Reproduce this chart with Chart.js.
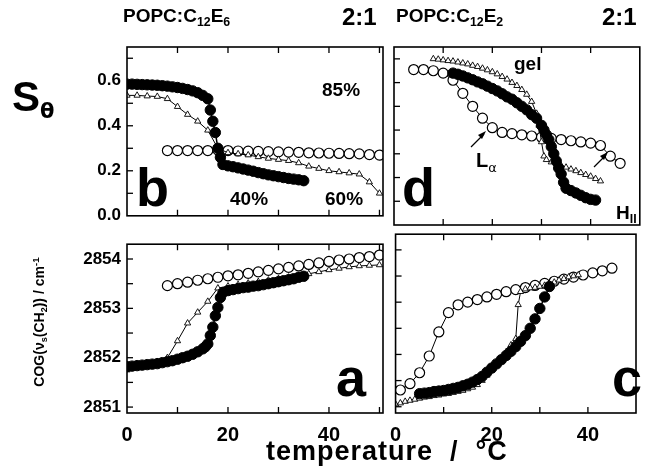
<!DOCTYPE html>
<html><head><meta charset="utf-8">
<script src="https://cdn.jsdelivr.net/npm/chart.js@4.4.0/dist/chart.umd.min.js"></script>
<style>
body{margin:0;background:#fff;width:646px;height:472px;overflow:hidden;position:relative;font-family:"Liberation Sans",Arial,sans-serif;font-weight:bold;color:#000}
canvas{position:absolute}
.t{position:absolute;white-space:nowrap;line-height:1}
sub{font-size:65%;vertical-align:-0.35em}
</style></head><body>
<canvas id="pb" style="left:0;top:0" width="390" height="232"></canvas>
<canvas id="pd" style="left:380px;top:0" width="266" height="232"></canvas>
<canvas id="pa" style="left:0;top:228px" width="390" height="244"></canvas>
<canvas id="pc" style="left:380px;top:228px" width="266" height="244"></canvas>

<div class="t" style="left:123px;top:6px;font-size:19px">POPC:C<sub>12</sub>E<sub>6</sub></div>
<div class="t" style="left:342px;top:5px;font-size:24px">2:1</div>
<div class="t" style="left:396px;top:6px;font-size:19px">POPC:C<sub>12</sub>E<sub>2</sub></div>
<div class="t" style="left:602px;top:5px;font-size:24px">2:1</div>
<div class="t" style="left:12px;top:76px;font-size:42px">S<sub style="font-size:50%;font-family:'DejaVu Sans'">θ</sub></div>
<div class="t" style="left:40px;top:322px;font-size:14px;transform:translate(-50%,-50%) rotate(-90deg)">COG(ν<sub>s</sub>(CH<sub>2</sub>)) / cm<sup style="font-size:70%">-1</sup></div>
<div class="t" style="left:266px;top:438px;font-size:27px;letter-spacing:1px">temperature&nbsp; /&nbsp; °C</div>
<div class="t" style="left:136px;top:160px;font-size:54px">b</div>
<div class="t" style="left:336px;top:350px;font-size:54px">a</div>
<div class="t" style="left:402px;top:160px;font-size:54px">d</div>
<div class="t" style="left:612px;top:350px;font-size:54px">c</div>
<div class="t" style="left:322px;top:80px;font-size:19px">85%</div>
<div class="t" style="left:230px;top:189px;font-size:19px">40%</div>
<div class="t" style="left:325px;top:189px;font-size:19px">60%</div>
<div class="t" style="left:514px;top:54px;font-size:19px">gel</div>
<div class="t" style="left:476px;top:150px;font-size:20px">L<sub style="font-family:'DejaVu Sans';font-weight:normal">α</sub></div>
<div class="t" style="left:616px;top:203px;font-size:19px">H<sub>II</sub></div>
<svg style="position:absolute;left:0;top:0" width="646" height="472">
<line x1="471" y1="147" x2="484" y2="134" stroke="#000" stroke-width="1.3"/><polygon points="486,131 478,135 482,139" fill="#000"/>
<line x1="594" y1="167" x2="606" y2="155" stroke="#000" stroke-width="1.3"/><polygon points="608,152 600,156 604,160" fill="#000"/>
</svg>

<script>
// Panel b: POPC:C12E6, order parameter
const bFilledX = [0,1,2,3,4,5,6,7,8,9,10,11,12,13,14,15,16,16.5,17,17.5,18,18.5,19,20,21,22,23,24,25,26,27,28,29,30,31,32,33,34,35];
const bFilledY = [.585,.585,.584,.583,.582,.581,.580,.578,.576,.573,.570,.566,.561,.555,.547,.535,.52,.47,.42,.37,.30,.26,.228,.222,.218,.213,.208,.203,.198,.192,.187,.182,.178,.174,.170,.166,.163,.160,.156];
const bTriX = [0,2,4,6,8,10,12,14,16,18,20,22,24,26,28,30,32,34,36,38,40,42,44,46,48,50];
const bTriY = [.535,.535,.532,.530,.52,.485,.45,.42,.38,.30,.28,.275,.27,.262,.255,.25,.245,.235,.22,.21,.20,.195,.19,.185,.15,.10];
const bOpenX = [8,10,12,14,16,18,20,22,24,26,28,30,32,34,36,38,40,42,44,46,48,50];
const bOpenY = [.29,.29,.29,.29,.29,.292,.29,.288,.287,.286,.285,.284,.283,.282,.280,.279,.278,.277,.276,.275,.272,.27];

// Panel d: POPC:C12E2, order parameter
const dOpenX = [4,6,8,10,12,14,16,18,20,22,24,26,28,30,32,34,36,38,40,42,44,46];
const dOpenY = [.655,.655,.65,.64,.61,.555,.50,.45,.41,.39,.385,.38,.375,.37,.365,.36,.355,.35,.345,.335,.29,.26];
const dTriX = [8,9,10,11,12,13,14,15,16,17,18,19,20,21,22,23,24,25,26,27,28,29,29.5,30,30.5,31,32,33,34,35,36,37,38,39,40,41,42];
const dTriY = [.70,.698,.695,.692,.69,.686,.682,.678,.672,.667,.66,.653,.645,.636,.625,.614,.60,.587,.57,.55,.52,.47,.42,.35,.29,.275,.265,.258,.25,.243,.235,.228,.22,.212,.205,.195,.185];
const dFilledX = [12,13,14,15,16,17,18,19,20,21,22,23,24,25,26,27,28,29,30,30.5,31,31.5,32,32.5,33,33.5,34,34.5,35,36,37,38,39,40,41];
const dFilledY = [.64,.635,.628,.62,.612,.603,.595,.585,.575,.565,.553,.54,.53,.515,.50,.485,.465,.45,.42,.40,.38,.36,.33,.30,.27,.24,.215,.18,.155,.145,.135,.125,.115,.108,.105];

// Panel a: POPC:C12E6, COG of CH2 stretching band
const aOpenX = [8,10,12,14,16,18,20,22,24,26,28,30,32,34,36,38,40,42,44,46,48,50];
const aOpenY = [2853.46,2853.5,2853.53,2853.57,2853.6,2853.63,2853.66,2853.68,2853.71,2853.74,2853.77,2853.8,2853.83,2853.86,2853.89,2853.92,2853.95,2853.98,2854.0,2854.03,2854.05,2854.08];
const aTriX = [0,2,4,6,8,10,12,14,16,18,20,22,24,26,28,30,32,34,36,38,40,42,44,46,48,50];
const aTriY = [2851.75,2851.82,2851.87,2851.92,2852.0,2852.34,2852.7,2852.92,2853.14,2853.41,2853.45,2853.48,2853.51,2853.54,2853.57,2853.6,2853.63,2853.66,2853.7,2853.74,2853.78,2853.81,2853.84,2853.86,2853.87,2853.88];
const aFilledX = [0,1,2,3,4,5,6,7,8,9,10,11,12,13,14,15,15.5,16,16.5,17,17.5,18,18.5,19,20,21,22,23,24,25,26,27,28,29,30,31,32,33,34,35];
const aFilledY = [2851.82,2851.83,2851.84,2851.85,2851.86,2851.87,2851.88,2851.9,2851.92,2851.94,2851.97,2852.0,2852.03,2852.07,2852.12,2852.18,2852.22,2852.28,2852.45,2852.62,2852.85,2853.02,2853.22,2853.32,2853.36,2853.38,2853.4,2853.42,2853.43,2853.45,2853.46,2853.48,2853.5,2853.52,2853.54,2853.56,2853.58,2853.6,2853.63,2853.65];

// Panel c: POPC:C12E2, COG of CH2 stretching band
const cOpenX = [1,3,5,7,9,11,13,15,17,19,21,23,25,27,29,31,33,35,37,39,41,43,45];
const cOpenY = [2851.32,2851.44,2851.65,2851.97,2852.43,2852.8,2852.95,2853.0,2853.05,2853.1,2853.15,2853.2,2853.24,2853.28,2853.32,2853.36,2853.4,2853.44,2853.48,2853.52,2853.56,2853.6,2853.65];
const cTriX = [0,1,2,3,4,5,6,7,8,9,10,11,12,13,14,15,16,17,18,19,20,21,22,23,24,25,25.5,26,27,28,29,30,31,32,33,34,35,36,37,38];
const cTriY = [2851.05,2851.07,2851.1,2851.12,2851.14,2851.16,2851.18,2851.19,2851.21,2851.22,2851.24,2851.25,2851.27,2851.29,2851.31,2851.34,2851.37,2851.42,2851.5,2851.6,2851.7,2851.8,2851.92,2852.05,2852.18,2852.3,2852.95,2853.2,2853.25,2853.27,2853.28,2853.3,2853.32,2853.35,2853.38,2853.42,2853.45,2853.48,2853.5,2853.52];
const cFilledX = [5,6,7,8,9,10,11,12,13,14,15,16,17,18,19,20,21,22,23,24,25,26,27,28,29,30,31,32];
const cFilledY = [2851.25,2851.26,2851.27,2851.29,2851.3,2851.31,2851.33,2851.35,2851.37,2851.4,2851.43,2851.47,2851.52,2851.58,2851.66,2851.74,2851.82,2851.9,2851.98,2852.06,2852.15,2852.25,2852.36,2852.5,2852.68,2852.88,2853.1,2853.3];

// Tick positions
const tempTicks = [0,10,20,30,40,50];
const sTicks = [0,0.1,0.2,0.3,0.4,0.5,0.6,0.7];
const cogTicks = [2851,2851.5,2852,2852.5,2853,2853.5,2854];

const pts = (xs, ys) => xs.map((x, i) => ({ x, y: ys[i] }));

function filled(xs, ys) {
  return { data: pts(xs, ys), pointStyle: 'circle', pointRadius: 5.2, backgroundColor: '#000',
    borderColor: '#000', borderWidth: 1.5, pointBorderWidth: 1, showLine: true };
}
function open(xs, ys) {
  return { data: pts(xs, ys), pointStyle: 'circle', pointRadius: 5, backgroundColor: '#fff',
    borderColor: '#000', borderWidth: 1, pointBorderWidth: 1.2, showLine: true };
}
function tri(xs, ys) {
  return { data: pts(xs, ys), pointStyle: 'triangle', pointRadius: 3.6, backgroundColor: '#fff',
    borderColor: '#000', borderWidth: 1, pointBorderWidth: 0.9, showLine: true };
}

// Caixa à volta da área e traços de escala virados para dentro.
const caixa = {
  id: 'caixa',
  afterDraw(chart) {
    const { ctx, chartArea: a, scales } = chart;
    ctx.save();
    ctx.strokeStyle = '#000';
    ctx.lineWidth = 1.6;
    ctx.strokeRect(a.left, a.top, a.right - a.left, a.bottom - a.top);
    ctx.lineWidth = 1.3;
    scales.x.ticks.forEach(t => {
      const p = scales.x.getPixelForValue(t.value);
      if (p <= a.left + 1 || p >= a.right - 1) return;
      ctx.beginPath();
      ctx.moveTo(p, a.bottom); ctx.lineTo(p, a.bottom - 6);
      ctx.moveTo(p, a.top); ctx.lineTo(p, a.top + 6);
      ctx.stroke();
    });
    scales.y.ticks.forEach(t => {
      const p = scales.y.getPixelForValue(t.value);
      if (p <= a.top + 1 || p >= a.bottom - 1) return;
      ctx.beginPath();
      ctx.moveTo(a.left, p); ctx.lineTo(a.left + 6, p);
      ctx.stroke();
    });
    ctx.restore();
  }
};

function painel(id, datasets, o) {
  new Chart(document.getElementById(id), {
    type: 'scatter',
    data: { datasets },
    options: {
      responsive: false, animation: false,
      layout: { padding: { top: o.top, right: o.right, left: 0, bottom: 0 } },
      plugins: { legend: { display: false }, tooltip: { enabled: false } },
      scales: {
        x: {
          type: 'linear', min: 0, max: o.xmax,
          grid: { display: false, drawTicks: false },
          border: { display: false },
          afterBuildTicks: s => { s.ticks = tempTicks.map(v => ({ value: v })); },
          ticks: { display: o.xLabels, padding: 10, color: '#000',
            font: { family: 'Liberation Sans', weight: 'bold', size: 20 },
            callback: v => (v % 20 === 0 ? v : '') },
          afterFit: s => { s.height = o.xh; }
        },
        y: {
          min: o.ymin, max: o.ymax,
          grid: { display: false, drawTicks: false },
          border: { display: false },
          afterBuildTicks: s => { s.ticks = o.yticks.map(v => ({ value: v })); },
          ticks: { display: o.yLabels, padding: 6, color: '#000',
            font: { family: 'Liberation Sans', weight: 'bold', size: 17 },
            callback: o.yfmt },
          afterFit: s => { s.width = o.yw; }
        }
      }
    },
    plugins: [caixa]
  });
}

const fmtS = v => ([0, 0.2, 0.4, 0.6].some(k => Math.abs(k - v) < 1e-6) ? v.toFixed(1) : '');
const fmtC = v => (Number.isInteger(v) ? v : '');

painel('pb', [filled(bFilledX, bFilledY), tri(bTriX, bTriY), open(bOpenX, bOpenY)],
  { top: 47, right: 7, xh: 7, yw: 127, xmax: 50.7, ymin: 0, ymax: 0.75, yticks: sTicks, yfmt: fmtS, xLabels: false, yLabels: true });
painel('pd', [filled(dFilledX, dFilledY), tri(dTriX, dTriY), open(dOpenX, dOpenY)],
  { top: 47, right: 0, xh: 7, yw: 14, xmax: 50, ymin: 0, ymax: 0.75, yticks: sTicks, yfmt: fmtS, xLabels: false, yLabels: false });
painel('pa', [filled(aFilledX, aFilledY), tri(aTriX, aTriY), open(aOpenX, aOpenY)],
  { top: 6, right: 7, xh: 59, yw: 127, xmax: 50.7, ymin: 2850.88, ymax: 2854.3, yticks: cogTicks, yfmt: fmtC, xLabels: true, yLabels: true });
painel('pc', [filled(cFilledX, cFilledY), tri(cTriX, cTriY), open(cOpenX, cOpenY)],
  { top: 6, right: 0, xh: 59, yw: 12, xmax: 50, ymin: 2850.88, ymax: 2854.3, yticks: cogTicks, yfmt: fmtC, xLabels: true, yLabels: false });
</script>
</body></html>
